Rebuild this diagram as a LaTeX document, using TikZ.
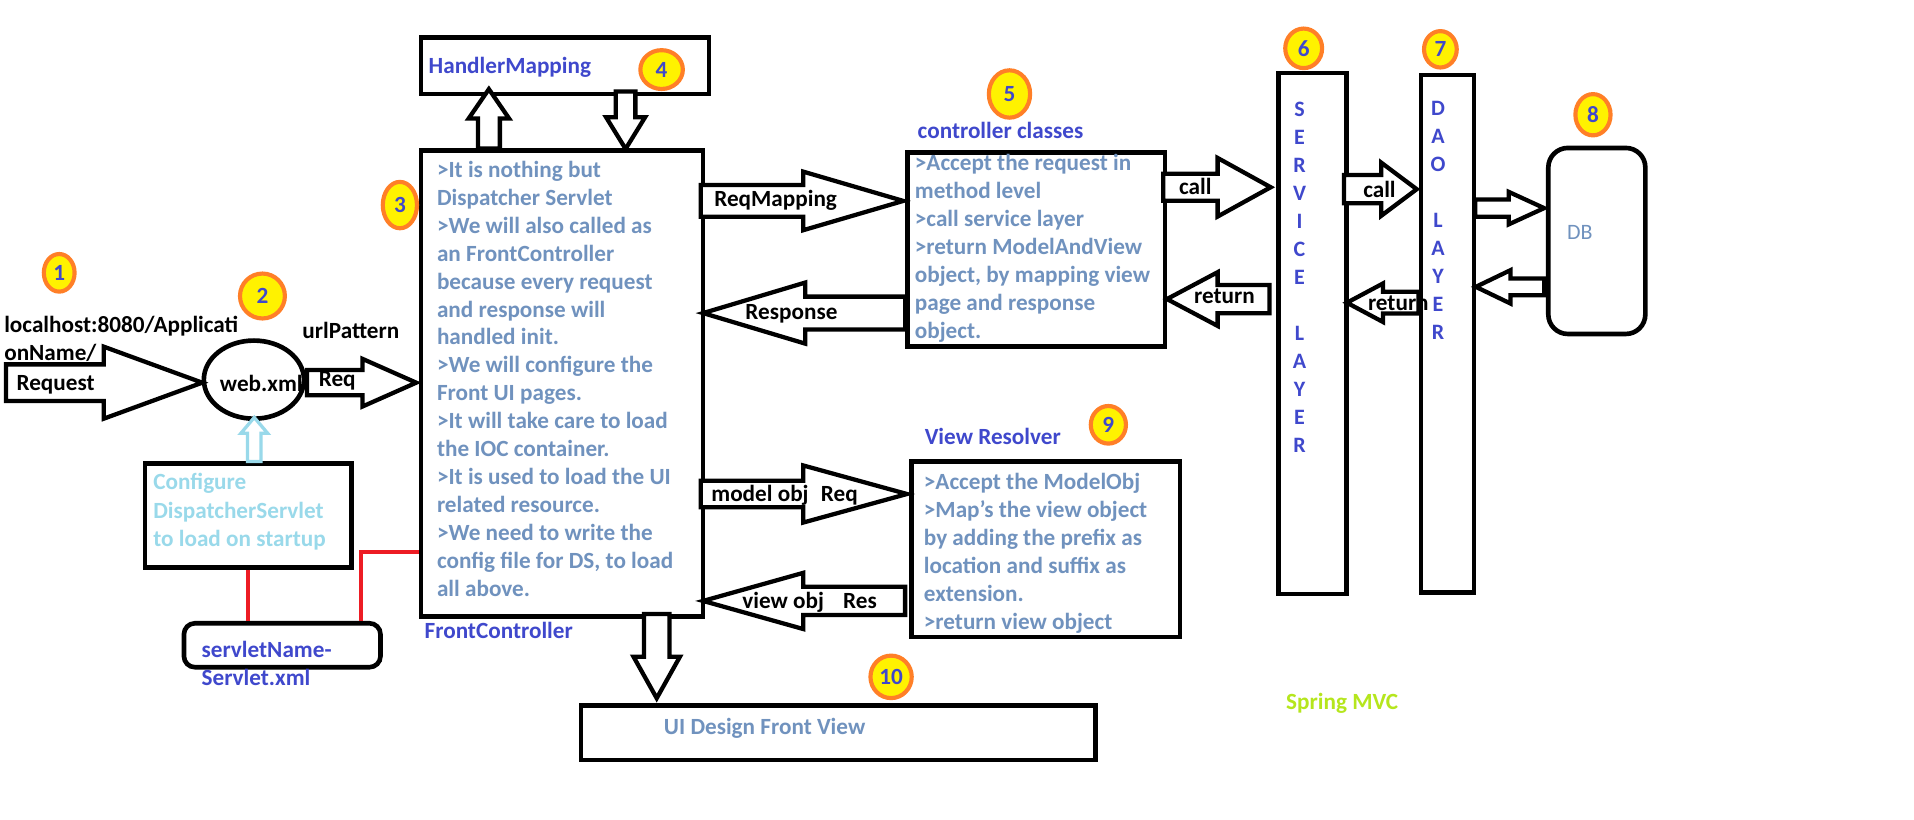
\documentclass[tikz,border=0pt]{standalone}
\usepackage{fontspec}
\setmainfont{Carlito}
\usetikzlibrary{shapes.geometric}
\definecolor{indigo}{RGB}{63,72,204}
\definecolor{bluegray}{RGB}{112,146,190}
\definecolor{turq}{RGB}{153,217,234}
\definecolor{limeg}{RGB}{181,230,29}
\definecolor{pred}{RGB}{237,28,36}
\definecolor{pyellow}{RGB}{255,242,0}
\definecolor{porange}{RGB}{255,127,39}
% horizontal block arrow: [style]{x start}{x tip}{y centre}{shaft half}{head half}{head base x}
\newcommand\blkH[7][blk]{\draw[#1] (#2,#4-#5) -- (#7,#4-#5) -- (#7,#4-#6) -- (#3,#4) -- (#7,#4+#6) -- (#7,#4+#5) -- (#2,#4+#5) -- cycle;}
% vertical block arrow: [style]{x centre}{y start}{y tip}{shaft half}{head half}{head base y}
\newcommand\blkV[7][blk]{\draw[#1] (#2-#5,#3) -- (#2-#5,#7) -- (#2-#6,#7) -- (#2,#4) -- (#2+#6,#7) -- (#2+#5,#7) -- (#2+#5,#3) -- cycle;}
\begin{document}
\begin{tikzpicture}[x=1pt,y=-1pt,
  box/.style={draw=black, line width=3.8pt, inner sep=0pt, anchor=north west},
  blk/.style={draw=black, line width=3.5pt, fill=white, line join=miter},
  tblk/.style={draw=turq, line width=2.7pt, fill=white, line join=miter},
  redln/.style={draw=pred, line width=3.2pt},
  lbl/.style={inner sep=0pt, anchor=base west, font=\fontsize{19}{23}\selectfont\bfseries},
  ctr/.style={inner sep=0pt, anchor=base, text=indigo, font=\fontsize{18}{23}\selectfont\bfseries},
  num/.style={ellipse, draw=porange, fill=pyellow, line width=3.4pt, inner sep=0pt, text=indigo, font=\fontsize{19}{19}\selectfont\bfseries}
]
\fill[white] (0,0) rectangle (1568,671);
\useasboundingbox (0,0) rectangle (1568,671);

% ---- boxes
\node[box, minimum width=236pt, minimum height=46.3pt] (hm) at (343,28.7) {};
\node[box, minimum width=231pt, minimum height=381.4pt] (main) at (343,121.6) {};
\node[box, minimum width=211pt, minimum height=159pt] (ctrl) at (741.6,122.9) {};
\node[box, minimum width=220pt, minimum height=144pt] (vr) at (744.7,376) {};
\node[box, minimum width=55.5pt, minimum height=426.7pt] (svc) at (1045.5,58) {};
\node[box, minimum width=43.4pt, minimum height=424pt] (dao) at (1162.3,59.5) {};
\node[box, rounded corners=16pt, minimum width=79.5pt, minimum height=152.4pt] (db) at (1266.5,119.3) {};
\node[box, minimum width=421.4pt, minimum height=44.7pt] (ui) at (474,576) {};
\node[box, minimum width=169pt, minimum height=85pt] (cfg) at (117,378) {};
\node[box, rounded corners=9pt, minimum width=161pt, minimum height=36pt] (srv) at (148.8,508.7) {};
\node[ellipse, draw=black, line width=3.8pt, minimum width=82pt, minimum height=64pt, inner sep=0pt] (web) at (208,311) {};

% ---- block arrows
\blkH{5}{165.7}{313.5}{15}{29.5}{85}
\blkH{251.5}{341}{313.5}{10.3}{19.5}{297}
\blkH{574}{740}{164.6}{13}{24}{658}
\blkH{741.6}{576}{256.5}{13.5}{25}{659.6}
\blkH{953}{1041}{153.4}{11}{24}{997.5}
\blkH{1040}{956}{245}{11.6}{22}{997.5}
\blkH{1101}{1160.6}{155}{11.6}{21.8}{1131.5}
\blkH{1162}{1103.4}{248}{8.9}{15.8}{1133}
\blkH{1208.5}{1265}{170.5}{7}{13.3}{1236}
\blkH{1265}{1209}{235}{6.9}{13.7}{1237.5}
\blkH{574}{743}{404.7}{10.9}{23.4}{658}
\blkH{741.5}{576}{492.3}{11.6}{23}{658}
\blkV{400.5}{121.6}{73}{9}{16.5}{97}
\blkV{512.5}{75}{122}{8}{16}{96}
\blkV{538}{503}{572}{10.4}{19}{538}
\blkV[tblk]{208.3}{378}{342}{5.5}{11}{355}

% ---- red connectors
\draw[redln] (cfg.south) -- (cfg.south |- srv.north);
\draw[redln] (main.west |- 0,452) -- (296,452) -- (296,0 |- srv.north);

% ---- number badges
\node[num, minimum width=25.2pt, minimum height=30.8pt] (n1) at (48.5,223.5) {1};
\node[num, minimum width=36.8pt, minimum height=36.8pt] (n2) at (215,242.5) {2};
\node[num, minimum width=28pt, minimum height=38pt] (n3) at (327.6,168) {3};
\node[num, minimum width=34.8pt, minimum height=31.8pt] (n4) at (542,57) {4};
\node[num, minimum width=33.8pt, minimum height=38.8pt] (n5) at (827,77) {5};
\node[num, minimum width=30.2pt, minimum height=32.4pt] (n6) at (1068,39.6) {6};
\node[num, minimum width=26.8pt, minimum height=29.8pt] (n7) at (1180,40.4) {7};
\node[num, minimum width=28.8pt, minimum height=33.8pt] (n8) at (1305,94) {8};
\node[num, minimum width=28.8pt, minimum height=30.8pt] (n9) at (908,348) {9};
\node[num, minimum width=33.8pt, minimum height=34.8pt] (n10) at (730,554.5) {10};

% ---- black labels
\node[lbl] (t-url1) at (3.3,272) {localhost:8080/Applicati};
\node[lbl] (t-url2) at (3.3,295) {onName/};
\node[lbl] (t-pat) at (247.6,277) {urlPattern};
\node[lbl] (t-req0) at (13.4,320) {Request};
\node[lbl] (t-web) at (180,321) {web.xml};
\node[lbl] (t-req1) at (261,317) {Req};
\node[lbl] (t-rm) at (585,169) {ReqMapping};
\node[lbl] (t-resp) at (610.5,261.6) {Response};
\node[lbl] (t-call1) at (965.7,159) {call};
\node[lbl] (t-ret1) at (978,249) {return};
\node[lbl] (t-call2) at (1116.6,161.6) {call};
\node[lbl] (t-ret2) at (1120.5,254) {return};
\node[lbl] (t-mo) at (582.6,410.7) {model obj\hspace{10pt}Req};
\node[lbl] (t-vo) at (608,498.3) {view obj\hspace{15.7pt}Res};

% ---- indigo titles
\node[lbl, text=indigo] (t-hm) at (351,60.6) {HandlerMapping};
\node[lbl, text=indigo] (t-fc) at (347.7,523) {FrontController};
\node[lbl, text=indigo] (t-cc) at (751.6,113.3) {controller classes};
\node[lbl, text=indigo] (t-vr) at (757.4,364.5) {View Resolver};
\node[lbl, text=indigo] (t-s1) at (165,538.6) {servletName-};
\node[lbl, text=indigo] (t-s2) at (165,561.7) {Servlet.xml};

% ---- box texts
\foreach \t [count=\i from 0] in {{>It is nothing but},{Dispatcher Servlet},{>We will also called as},{an FrontController},{because every request},{and response will},{handled init.},{>We will configure the},{Front UI pages.},{>It will take care to load},{the IOC container.},{>It is used to load the UI},{related resource.},{>We need to write the},{config file for DS, to load},{all above.}}
  \node[lbl, text=bluegray] (m\i) at (357.8,145.3+22.88*\i) {\t};
\foreach \t [count=\i from 0] in {{>Accept the request in},{method level},{>call service layer},{>return ModelAndView},{object, by mapping view},{page and response},{object.}}
  \node[lbl, text=bluegray] (c\i) at (749.3,139.8+22.87*\i) {\t};
\foreach \t [count=\i from 0] in {{>Accept the ModelObj},{>Map's the view object},{by adding the prefix as},{location and suffix as},{extension.},{>return view object}}
  \node[lbl, text=bluegray] (v\i) at (756.7,400.6+22.96*\i) {\t};
\foreach \t [count=\i from 0] in {{Configure},{DispatcherServlet},{to load on startup}}
  \node[lbl, text=turq] (g\i) at (125.4,401.4+23.15*\i) {\t};
\node[lbl, text=bluegray] (t-ui) at (543.7,602) {UI Design Front View};
\node[inner sep=0pt, anchor=base west, text=bluegray, font=\fontsize{18}{23}\selectfont] (t-db) at (1283.7,195.8) {DB};
\node[lbl, text=limeg] (t-mvc) at (1053.5,581) {Spring MVC};

% ---- vertical layer letters
\foreach \l/\i in {S/0,E/1,R/2,V/3,I/4,C/5,E/6,L/8,A/9,Y/10,E/11,R/12}
  \node[ctr] (s\i) at (1064.6,95.6+22.9*\i) {\l};
\foreach \l/\i in {D/0,A/1,O/2,L/4,A/5,Y/6,E/7,R/8}
  \node[ctr] (d\i) at (1178,94.8+22.9*\i) {\l};
\end{tikzpicture}
\end{document}
